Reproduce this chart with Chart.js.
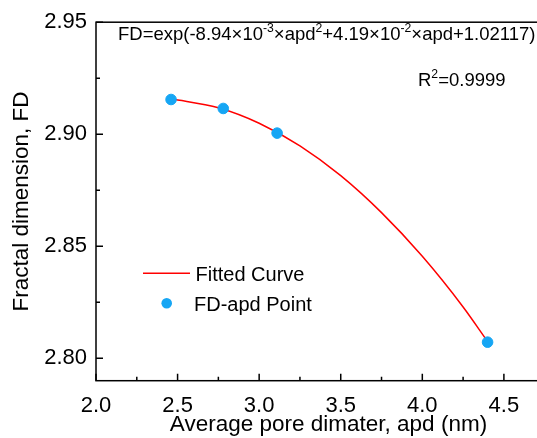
<!DOCTYPE html>
<html>
<head>
<meta charset="utf-8">
<script src="https://cdn.jsdelivr.net/npm/chart.js@4"></script>
<style>
  html, body { margin: 0; padding: 0; background: #fff; overflow: hidden; }
</style>
</head>
<body>
<canvas id="fdChart" width="575" height="438"></canvas>
<script>
// measured points
const apdValues = [2.46, 2.78, 3.11, 4.40];
const fdValues = [2.9155, 2.9115, 2.9005, 2.8072];

// fitted curve
const curveApd = [2.46, 2.75, 3.0, 3.25, 3.5, 3.75, 4.0, 4.25, 4.40];
const curveFd = [2.9158, 2.9118, 2.9049, 2.8948, 2.8815, 2.8650, 2.8455, 2.8229, 2.8075];

// tick labels
const xTicks = [2.0, 2.5, 3.0, 3.5, 4.0, 4.5];
const xMinorTicks = [2.25, 2.75, 3.25, 3.75, 4.25, 4.75];
const yTicks = [2.80, 2.85, 2.90, 2.95];
const yMinorTicks = [2.825, 2.875, 2.925];

const curveColor = "#ff0000";
const pointColor = "#16a6f4";
const font = "'Liberation Sans', Arial, sans-serif";

// draws text with superscript parts
function drawRich(ctx, parts, x, y, size) {
    parts.forEach(([txt, sup]) => {
        if (sup) {
            ctx.font = (size * 0.66) + "px " + font;
            ctx.fillText(txt, x, y - size * 0.42);
        } else {
            ctx.font = size + "px " + font;
            ctx.fillText(txt, x, y);
        }
        x += ctx.measureText(txt).width;
    });
}

const overlay = {
    id: "overlay",
    afterDraw(chart) {
        const { ctx, chartArea: a, scales: { x, y } } = chart;
        ctx.save();
        ctx.strokeStyle = "#000";
        ctx.lineWidth = 1.5;
        ctx.strokeRect(a.left, a.top, a.right - a.left, a.bottom - a.top);

        // inward ticks
        ctx.beginPath();
        xTicks.forEach(v => { const p = x.getPixelForValue(v); ctx.moveTo(p, a.bottom); ctx.lineTo(p, a.bottom - 7); });
        xMinorTicks.forEach(v => { const p = x.getPixelForValue(v); ctx.moveTo(p, a.bottom); ctx.lineTo(p, a.bottom - 4); });
        yTicks.forEach(v => { const p = y.getPixelForValue(v); ctx.moveTo(a.left, p); ctx.lineTo(a.left + 7, p); });
        yMinorTicks.forEach(v => { const p = y.getPixelForValue(v); ctx.moveTo(a.left, p); ctx.lineTo(a.left + 4, p); });
        ctx.stroke();

        // equation + R2
        ctx.fillStyle = "#000";
        ctx.textBaseline = "alphabetic";
        ctx.textAlign = "left";
        drawRich(ctx, [
            ["FD=exp(-8.94\u00d710"], ["-3", true], ["\u00d7apd"], ["2", true],
            ["+4.19\u00d710"], ["-2", true], ["\u00d7apd+1.02117)"]
        ], 118, 40, 18.5);
        drawRich(ctx, [["R"], ["2", true], ["=0.9999"]], 418, 86, 18.5);

        // legend
        ctx.strokeStyle = curveColor;
        ctx.lineWidth = 1.5;
        ctx.beginPath();
        ctx.moveTo(143, 273.3);
        ctx.lineTo(190, 273.3);
        ctx.stroke();
        ctx.fillStyle = pointColor;
        ctx.beginPath();
        ctx.arc(166.7, 303.3, 5.3, 0, Math.PI * 2);
        ctx.fill();
        ctx.fillStyle = "#000";
        ctx.font = "20px " + font;
        ctx.fillText("Fitted Curve", 195.5, 280.5);
        ctx.fillText("FD-apd Point", 194, 310.5);
        ctx.restore();
    }
};

const ctx = document.getElementById("fdChart").getContext("2d");
const fdChart = new Chart(ctx, {
    type: "scatter",
    data: {
        datasets: [
            {
                label: "Fitted Curve",
                data: curveApd.map((v, i) => ({ x: v, y: curveFd[i] })),
                showLine: true,
                borderColor: curveColor,
                borderWidth: 1.5,
                pointRadius: 0,
                cubicInterpolationMode: "monotone",
                order: 2,
            },
            {
                label: "FD-apd Point",
                data: apdValues.map((v, i) => ({ x: v, y: fdValues[i] })),
                backgroundColor: pointColor,
                borderColor: pointColor,
                pointRadius: 5.3,
                order: 1,
            },
        ],
    },
    options: {
        responsive: false,
        animation: false,
        devicePixelRatio: 1,
        layout: { padding: { left: 0, top: 18, right: 14, bottom: 0 } },
        plugins: { legend: { display: false }, tooltip: { enabled: false } },
        scales: {
            x: {
                type: "linear",
                min: 2.0,
                max: 4.85,
                afterBuildTicks: s => { s.ticks = xTicks.map(v => ({ value: v })); },
                afterFit: s => { s.height = 57.3; },
                grid: { display: false, drawTicks: false },
                border: { display: false },
                ticks: {
                    color: "#000",
                    padding: 12,
                    font: { family: font, size: 22 },
                    callback: v => Number(v).toFixed(1),
                },
                title: {
                    display: true,
                    text: "Average pore dimater, apd (nm)",
                    color: "#000",
                    font: { family: font, size: 22.5 },
                    padding: { top: 0, bottom: 0 },
                },
            },
            y: {
                min: 2.79,
                max: 2.95,
                afterBuildTicks: s => { s.ticks = yTicks.map(v => ({ value: v })); },
                afterFit: s => { s.width = 96; },
                grid: { display: false, drawTicks: false },
                border: { display: false },
                ticks: {
                    color: "#000",
                    padding: 9,
                    font: { family: font, size: 22 },
                    callback: v => Number(v).toFixed(2),
                },
                title: {
                    display: true,
                    text: "Fractal dimension, FD",
                    color: "#000",
                    font: { family: font, size: 22.5 },
                    padding: { top: 8, bottom: 0 },
                },
            },
        },
    },
    plugins: [overlay],
});
</script>
</body>
</html>
